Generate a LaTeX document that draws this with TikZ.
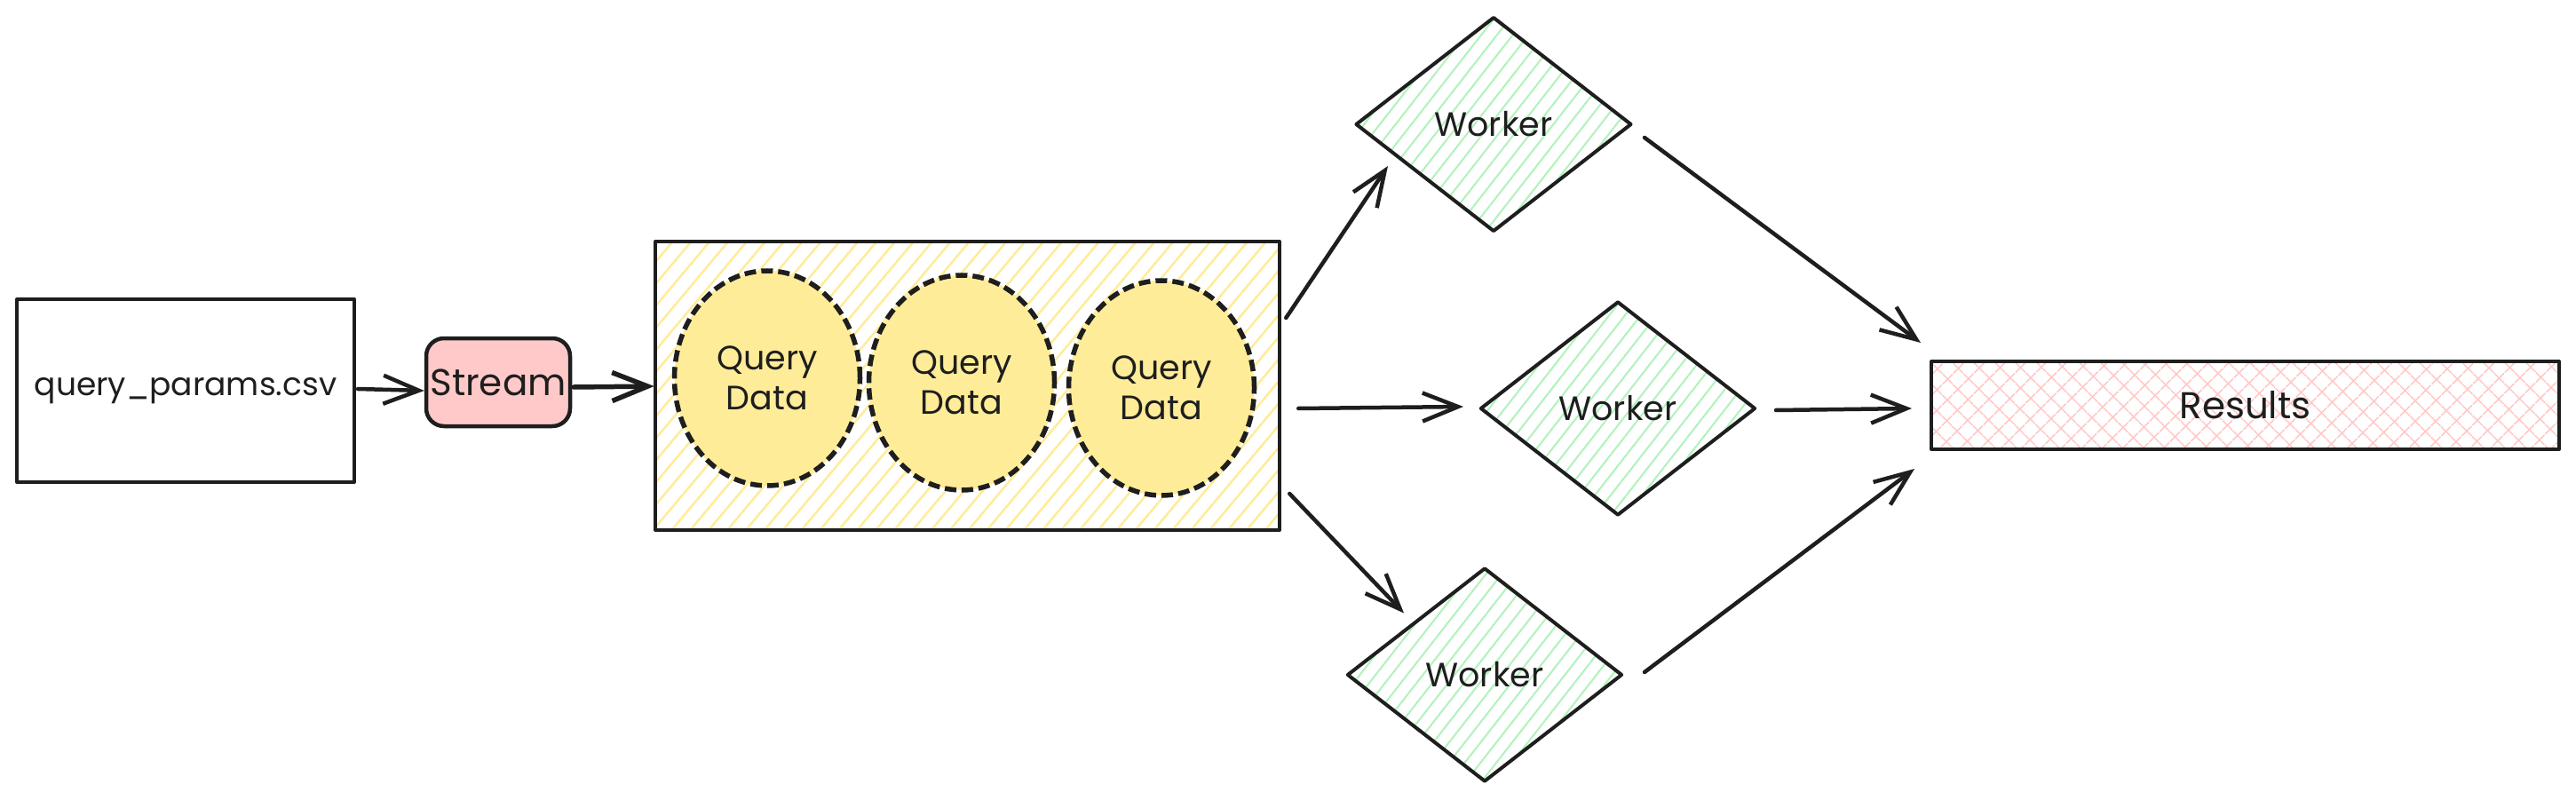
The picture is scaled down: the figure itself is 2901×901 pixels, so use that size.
\documentclass[tikz,border=0pt]{standalone}
\usepackage{fontspec}
\setmainfont{Poppins}
\usetikzlibrary{arrows.meta,shapes.geometric,patterns.meta}
\definecolor{ink}{HTML}{1E1E1E}
\definecolor{yel}{HTML}{FFEC99}
\definecolor{grn}{HTML}{B2F2BB}
\definecolor{pnk}{HTML}{FFC9C9}
\begin{document}
\begin{tikzpicture}[x=1pt,y=-1pt,
  outline/.style={draw=ink,line width=4pt,line join=round,inner sep=0pt,text=ink},
  filetext/.style={font=\fontsize{36}{40}\selectfont},
  bigtext/.style={font=\fontsize{42}{46}\selectfont},
  midtext/.style={font=\fontsize{38}{45}\selectfont},
  filebox/.style={outline,rectangle,minimum width=380pt,minimum height=206pt,filetext},
  streambox/.style={outline,rectangle,rounded corners=20pt,fill=pnk,minimum width=162pt,minimum height=99pt,line width=4.5pt,bigtext},
  groupbox/.style={outline,rectangle,minimum width=703pt,minimum height=325pt,
    pattern={Lines[angle=50,distance=16pt,line width=2.5pt]},pattern color=yel},
  datablob/.style={ellipse,draw=ink,line width=5.5pt,dash pattern=on 13pt off 6pt,fill=yel,
    inner sep=0pt,minimum width=209pt,minimum height=242pt,align=center,midtext,text=ink},
  workerdia/.style={outline,diamond,minimum width=310pt,minimum height=241pt,midtext,
    pattern={Lines[angle=52,distance=14pt,line width=2pt]},pattern color=grn},
  resultbox/.style={outline,rectangle,minimum width=707pt,minimum height=99pt,bigtext,
    pattern={Hatch[angle=45,distance=17pt,line width=2pt]},pattern color=pnk},
  conn/.style={draw=ink,line width=4.5pt,line cap=round,line join=round,
    -{Straight Barb[length=40pt,width=32pt]}},
]
\useasboundingbox (0,0) rectangle (2901,901);
\fill[white] (0,0) rectangle (2901,901);

\node[filebox] (csv) at (209,440) {query\_params.csv};
\node[streambox] (stream) at (561,430.5) {Stream};
\node[groupbox] (group) at (1089.5,434.5) {};
\node[datablob] (q1) at (864,426) {Query\\Data};
\node[datablob] (q2) at (1083,431) {Query\\Data};
\node[datablob] (q3) at (1308,437) {Query\\Data};
\node[workerdia] (w1) at (1682,140) {Worker};
\node[workerdia] (w2) at (1822,460) {Worker};
\node[workerdia] (w3) at (1672,760) {Worker};
\node[resultbox] (res) at (2528.5,456.5) {Results};

\draw[conn] ([shift={(2,-2)}]csv.east) -- ([shift={(0,9.5)}]stream.west);
\draw[conn,line width=5.5pt] ([shift={(2,5.5)}]stream.east) -- ([shift={(0,0.5)}]group.west);
\draw[conn] ([shift={(6,-76.5)}]group.east) -- ([shift={(37,47)}]w1.west);
\draw[conn] ([shift={(20,25.5)}]group.east) -- ([shift={(-17,-2)}]w2.west);
\draw[conn] ([shift={(10,121.5)}]group.east) -- ([shift={(-91,53)}]w3.north);
\draw[conn] ([shift={(14,15)}]w1.east) -- ([shift={(-11,-20)}]res.north west);
\draw[conn] ([shift={(21,2)}]w2.east) -- ([shift={(-21,3.5)}]res.west);
\draw[conn] ([shift={(23,-3)}]w3.east) -- ([shift={(-18,21)}]res.south west);
\end{tikzpicture}
\end{document}
